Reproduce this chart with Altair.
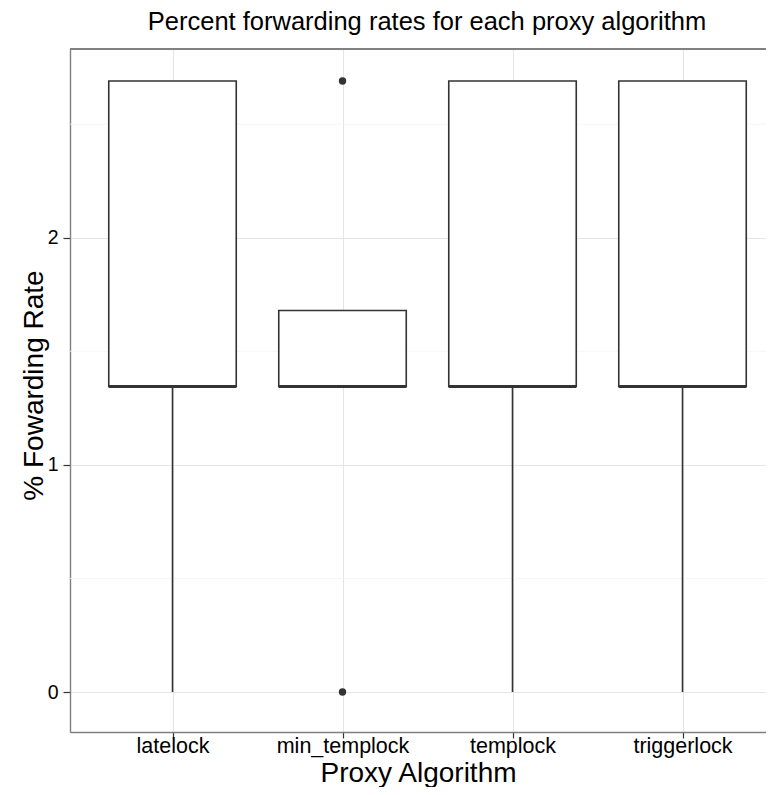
import altair as alt
import pandas as pd

# ---- data ----
algorithms = ["latelock", "min_templock", "templock", "triggerlock"]
whisker_low = [0.0, 1.345, 0.0, 0.0]
q1 = [1.345, 1.345, 1.345, 1.345]
median = [1.345, 1.345, 1.345, 1.345]
q3 = [2.69, 1.68, 2.69, 2.69]
whisker_high = [2.69, 1.68, 2.69, 2.69]
outlier_algorithm = ["min_templock", "min_templock"]
outlier_value = [0.0, 2.69]
minor_breaks = [0.5, 1.5, 2.5]
major_breaks = [0, 1, 2]

HALF = 0.375  # half box width, in category units
PLOT_W = 696
PLOT_H = 683

box_df = pd.DataFrame({
    "algorithm": algorithms,
    "idx": [i + 1 for i in range(len(algorithms))],
    "low": whisker_low, "q1": q1, "median": median, "q3": q3, "high": whisker_high,
})
box_df["left"] = box_df["idx"] - HALF
box_df["right"] = box_df["idx"] + HALF

out_df = pd.DataFrame({
    "algorithm": outlier_algorithm,
    "idx": [algorithms.index(a) + 1 for a in outlier_algorithm],
    "value": outlier_value,
})
minor_df = pd.DataFrame({"v": minor_breaks})

FONT = "Liberation Sans"
label_map = "[" + ",".join("'%s'" % a for a in algorithms) + "][datum.value - 1]"

xscale = alt.Scale(domain=[0.397, 0.397 + PLOT_W / 170.0], nice=False, zero=False)
yscale = alt.Scale(domain=[-0.176, 2.831], nice=False, zero=False)

x_axis = alt.Axis(
    values=[1, 2, 3, 4], labelExpr=label_map, title="Proxy Algorithm",
    grid=True, gridColor="#e5e5e5", gridWidth=1,
    domain=True, domainColor="#7f7f7f", domainWidth=1.4,
    ticks=True, tickColor="#333333", tickSize=6, tickWidth=1.2,
    labelFont=FONT, labelFontSize=21.5, labelColor="#000000",
    labelBaseline="alphabetic", labelPadding=14, labelFlush=False,
    titleFont=FONT, titleFontSize=28, titleFontWeight="normal", titleColor="#000000",
    titleBaseline="alphabetic", titleY=49,
)
y_axis = alt.Axis(
    values=major_breaks, title="% Fowarding Rate", format="d",
    grid=True, gridColor="#e5e5e5", gridWidth=1,
    domain=True, domainColor="#7f7f7f", domainWidth=1.4,
    ticks=True, tickColor="#333333", tickSize=7, tickWidth=1.2,
    labelFont=FONT, labelFontSize=19.5, labelColor="#000000", labelPadding=5,
    labelFlush=False,
    titleFont=FONT, titleFontSize=28, titleFontWeight="normal", titleColor="#000000",
    titleBaseline="alphabetic", titleX=-28, titleY=336, titleAngle=-90,
)

base = alt.Chart(box_df)

minor = alt.Chart(minor_df).mark_rule(color="#f2f2f2", strokeWidth=0.8).encode(
    y=alt.Y("v:Q", scale=yscale, axis=y_axis),
)

whiskers = base.mark_rule(color="#333333", strokeWidth=1.6).encode(
    x=alt.X("idx:Q", scale=xscale, axis=x_axis),
    y=alt.Y("low:Q", scale=yscale),
    y2="high:Q",
)

boxes = base.mark_bar(fill="white", stroke="#333333", strokeWidth=1.6).encode(
    x=alt.X("left:Q", scale=xscale),
    x2="right:Q",
    y=alt.Y("q1:Q", scale=yscale),
    y2="q3:Q",
)

medians = base.mark_rule(color="#333333", strokeWidth=3).encode(
    x=alt.X("left:Q", scale=xscale),
    x2="right:Q",
    y=alt.Y("median:Q", scale=yscale),
)

outliers = alt.Chart(out_df).mark_point(filled=True, color="#333333", size=55, opacity=1).encode(
    x=alt.X("idx:Q", scale=xscale),
    y=alt.Y("value:Q", scale=yscale),
)

top_border = alt.Chart(minor_df).mark_rule(color="#7f7f7f", strokeWidth=1.4).encode(
    y=alt.value(0), x=alt.value(0), x2=alt.value(PLOT_W),
)

chart = alt.layer(minor, whiskers, boxes, medians, outliers, top_border).properties(
    width=PLOT_W, height=PLOT_H,
    title=alt.TitleParams(
        "Percent forwarding rates for each proxy algorithm",
        font=FONT, fontSize=25.5, fontWeight="normal", color="#000000",
        anchor="middle", baseline="alphabetic", offset=17, dx=9, dy=24,
    ),
    padding={"left": 62, "top": 41, "right": 0, "bottom": 55},
    autosize=alt.AutoSizeParams(type="none"),
).configure_view(stroke=None).configure(background="white")

chart.save("out.html", embed_options={"renderer": "svg", "actions": False})
